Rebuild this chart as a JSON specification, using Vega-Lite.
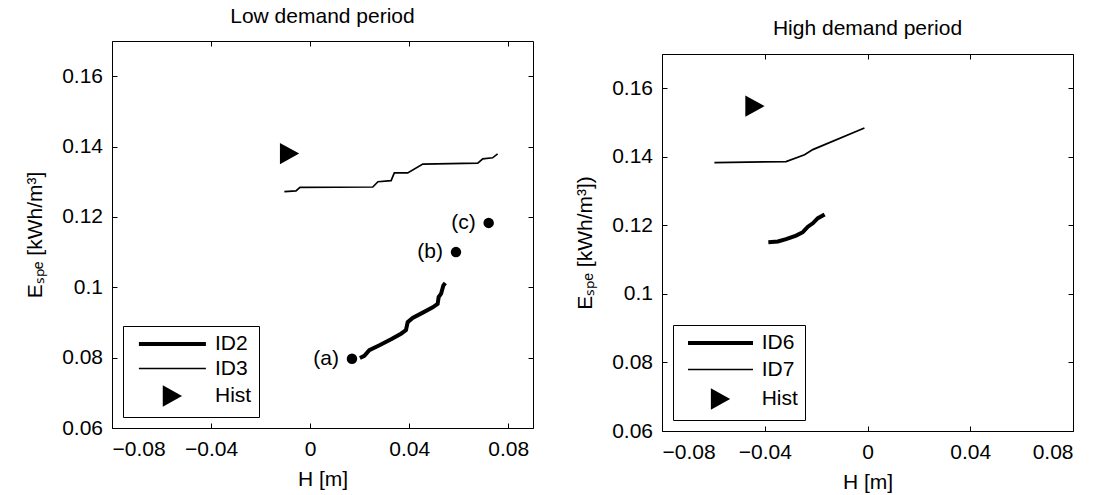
{
  "$schema": "https://vega.github.io/schema/vega-lite/v6.json",
  "background": "white",
  "padding": {"left": 24, "top": 5, "right": 5, "bottom": 5},
  "datasets": {
    "leftLines": [
      {"series": "ID2", "i": 1, "H": 0.0201, "E": 0.0799},
      {"series": "ID2", "i": 2, "H": 0.0219, "E": 0.0805},
      {"series": "ID2", "i": 3, "H": 0.0239, "E": 0.0821},
      {"series": "ID2", "i": 4, "H": 0.0280, "E": 0.0835},
      {"series": "ID2", "i": 5, "H": 0.0327, "E": 0.0852},
      {"series": "ID2", "i": 6, "H": 0.0367, "E": 0.0868},
      {"series": "ID2", "i": 7, "H": 0.0387, "E": 0.0878},
      {"series": "ID2", "i": 8, "H": 0.0394, "E": 0.0901},
      {"series": "ID2", "i": 9, "H": 0.0414, "E": 0.0913},
      {"series": "ID2", "i": 10, "H": 0.0455, "E": 0.0928},
      {"series": "ID2", "i": 11, "H": 0.0495, "E": 0.0943},
      {"series": "ID2", "i": 12, "H": 0.0515, "E": 0.0953},
      {"series": "ID2", "i": 13, "H": 0.0519, "E": 0.0972},
      {"series": "ID2", "i": 14, "H": 0.0529, "E": 0.0982},
      {"series": "ID2", "i": 15, "H": 0.0538, "E": 0.1005},
      {"series": "ID2", "i": 16, "H": 0.0546, "E": 0.1012},
      {"series": "ID3", "i": 1, "H": -0.0104, "E": 0.1272},
      {"series": "ID3", "i": 2, "H": -0.0057, "E": 0.1274},
      {"series": "ID3", "i": 3, "H": -0.0041, "E": 0.1284},
      {"series": "ID3", "i": 4, "H": 0.0253, "E": 0.1285},
      {"series": "ID3", "i": 5, "H": 0.0274, "E": 0.1300},
      {"series": "ID3", "i": 6, "H": 0.0327, "E": 0.1303},
      {"series": "ID3", "i": 7, "H": 0.0340, "E": 0.1325},
      {"series": "ID3", "i": 8, "H": 0.0394, "E": 0.1325},
      {"series": "ID3", "i": 9, "H": 0.0455, "E": 0.1350},
      {"series": "ID3", "i": 10, "H": 0.0677, "E": 0.1353},
      {"series": "ID3", "i": 11, "H": 0.0697, "E": 0.1365},
      {"series": "ID3", "i": 12, "H": 0.0737, "E": 0.1368},
      {"series": "ID3", "i": 13, "H": 0.0757, "E": 0.1379}
    ],
    "leftHist": [{"series": "Hist", "H": -0.0083, "E": 0.138}],
    "leftPoints": [
      {"label": "(a)", "H": 0.0169, "E": 0.0797},
      {"label": "(b)", "H": 0.0589, "E": 0.1100},
      {"label": "(c)", "H": 0.0721, "E": 0.1183}
    ],
    "rightLines": [
      {"series": "ID6", "i": 1, "H": -0.0386, "E": 0.1151},
      {"series": "ID6", "i": 2, "H": -0.0349, "E": 0.1153},
      {"series": "ID6", "i": 3, "H": -0.0317, "E": 0.1160},
      {"series": "ID6", "i": 4, "H": -0.0278, "E": 0.1170},
      {"series": "ID6", "i": 5, "H": -0.0252, "E": 0.1180},
      {"series": "ID6", "i": 6, "H": -0.0232, "E": 0.1196},
      {"series": "ID6", "i": 7, "H": -0.0213, "E": 0.1206},
      {"series": "ID6", "i": 8, "H": -0.0193, "E": 0.1221},
      {"series": "ID6", "i": 9, "H": -0.0174, "E": 0.1229},
      {"series": "ID6", "i": 10, "H": -0.0167, "E": 0.1232},
      {"series": "ID7", "i": 1, "H": -0.0596, "E": 0.1383},
      {"series": "ID7", "i": 2, "H": -0.0317, "E": 0.1386},
      {"series": "ID7", "i": 3, "H": -0.0245, "E": 0.1406},
      {"series": "ID7", "i": 4, "H": -0.0213, "E": 0.1421},
      {"series": "ID7", "i": 5, "H": -0.0012, "E": 0.1484}
    ],
    "rightHist": [{"series": "Hist", "H": -0.0438, "E": 0.1548}]
  },
  "spacing": 40,
  "hconcat": [
    {
      "width": 421,
      "height": 387,
      "title": {"text": "Low demand period", "offset": 14},
      "layer": [
        {
          "data": {"name": "leftLines"},
          "mark": {"type": "line", "color": "black"},
          "encoding": {
            "x": {"field": "H", "type": "quantitative", "scale": {"domain": [-0.08, 0.09], "nice": false, "zero": false},
                  "axis": {"orient": "bottom", "values": [-0.08, -0.04, 0, 0.04, 0.08], "format": "~g", "title": "H [m]"}},
            "y": {"field": "E", "type": "quantitative", "scale": {"domain": [0.06, 0.17], "nice": false, "zero": false},
                  "axis": {"orient": "left", "values": [0.06, 0.08, 0.1, 0.12, 0.14, 0.16], "format": "~g", "title": "Eₛₚₑ [kWh/m³]"}},
            "detail": {"field": "series", "type": "nominal"},
            "order": {"field": "i", "type": "quantitative"},
            "strokeWidth": {"field": "series", "type": "nominal", "scale": {"domain": ["ID2", "ID3"], "range": [4, 1.7]}, "legend": null}
          }
        },
        {
          "data": {"name": "leftPoints"},
          "mark": {"type": "point", "shape": "circle", "filled": true, "color": "black", "size": 110, "opacity": 1},
          "encoding": {
            "x": {"field": "H", "type": "quantitative", "axis": null},
            "y": {"field": "E", "type": "quantitative", "axis": null}
          }
        },
        {
          "data": {"name": "leftPoints"},
          "mark": {"type": "text", "align": "right", "baseline": "middle", "dx": -13, "fontSize": 21, "color": "black"},
          "encoding": {
            "x": {"field": "H", "type": "quantitative", "axis": null},
            "y": {"field": "E", "type": "quantitative", "axis": null},
            "text": {"field": "label"}
          }
        },
        {
          "data": {"name": "leftHist"},
          "mark": {"type": "point", "filled": true, "color": "black", "size": 400, "opacity": 1},
          "encoding": {
            "x": {"field": "H", "type": "quantitative", "axis": {"orient": "top", "values": [-0.08, -0.04, 0, 0.04, 0.08], "labels": false, "title": null}},
            "y": {"field": "E", "type": "quantitative", "axis": {"orient": "right", "values": [0.06, 0.08, 0.1, 0.12, 0.14, 0.16], "labels": false, "title": null}},
            "shape": {"field": "series", "type": "nominal",
              "scale": {"domain": ["ID2", "ID3", "Hist"], "range": ["M-3.35,-0.2H3.35V0.2H-3.35Z", "M-3.35,-0.085H3.35V0.085H-3.35Z", "M-0.965,-1.065L0.965,0L-0.965,1.065Z"]},
              "legend": {
                "title": null, "orient": "bottom-left", "offset": 11, "padding": 7, "symbolOffset": 31.4,
                "strokeColor": "black", "fillColor": "white", "symbolSize": 400, "symbolFillColor": "black",
                "labelFontSize": 21, "labelColor": "black", "labelOffset": 31.6, "rowPadding": 3.5
              }
            }
          }
        }
      ],
      "resolve": {"axis": {"x": "independent", "y": "independent"}, "legend": {"shape": "independent"}}
    },
    {
      "spacing": 11,
      "vconcat": [
        {
          "width": 411,
          "height": 1,
          "title": {"text": "High demand period", "offset": 2},
          "view": {"stroke": null},
          "data": {"values": []},
          "mark": "point"
        },
        {
          "width": 411,
          "height": 377,
          "layer": [
            {
              "data": {"name": "rightLines"},
              "mark": {"type": "line", "color": "black"},
              "encoding": {
                "x": {"field": "H", "type": "quantitative", "scale": {"domain": [-0.08, 0.08], "nice": false, "zero": false},
                      "axis": {"orient": "bottom", "values": [-0.08, -0.04, 0, 0.04, 0.08], "format": "~g", "title": "H [m]"}},
                "y": {"field": "E", "type": "quantitative", "scale": {"domain": [0.06, 0.17], "nice": false, "zero": false},
                      "axis": {"orient": "left", "values": [0.06, 0.08, 0.1, 0.12, 0.14, 0.16], "format": "~g", "title": "Eₛₚₑ [kWh/m³])"}},
                "detail": {"field": "series", "type": "nominal"},
                "order": {"field": "i", "type": "quantitative"},
                "strokeWidth": {"field": "series", "type": "nominal", "scale": {"domain": ["ID6", "ID7"], "range": [4, 1.7]}, "legend": null}
              }
            },
            {
              "data": {"name": "rightHist"},
              "mark": {"type": "point", "filled": true, "color": "black", "size": 400, "opacity": 1},
              "encoding": {
                "x": {"field": "H", "type": "quantitative", "axis": {"orient": "top", "values": [-0.08, -0.04, 0, 0.04, 0.08], "labels": false, "title": null}},
                "y": {"field": "E", "type": "quantitative", "axis": {"orient": "right", "values": [0.06, 0.08, 0.1, 0.12, 0.14, 0.16], "labels": false, "title": null}},
                "shape": {"field": "series", "type": "nominal",
                  "scale": {"domain": ["ID6", "ID7", "Hist"], "range": ["M-3.25,-0.2H3.25V0.2H-3.25Z", "M-3.25,-0.085H3.25V0.085H-3.25Z", "M-0.965,-1.065L0.965,0L-0.965,1.065Z"]},
                  "legend": {
                    "title": null, "orient": "bottom-left", "offset": 11, "padding": 7, "symbolOffset": 29.5,
                    "strokeColor": "black", "fillColor": "white", "symbolSize": 400, "symbolFillColor": "black",
                    "labelFontSize": 21, "labelColor": "black", "labelOffset": 30.2, "rowPadding": 5.5
                  }
                }
              }
            }
          ],
          "resolve": {"axis": {"x": "independent", "y": "independent"}, "legend": {"shape": "independent"}}
        }
      ]
    }
  ],
  "resolve": {"legend": {"shape": "independent"}, "scale": {"shape": "independent", "strokeWidth": "independent"}},
  "config": {
    "font": "Liberation Sans",
    "view": {"stroke": "black", "strokeWidth": 1},
    "axis": {
      "domain": false, "grid": false, "ticks": true, "tickColor": "black", "tickSize": -5, "tickWidth": 1,
      "labelColor": "black", "labelFontSize": 21, "labelFont": "Liberation Sans",
      "titleColor": "black", "titleFontSize": 21, "titleFontWeight": "normal", "titleFont": "Liberation Sans"
    },
    "axisX": {"labelPadding": 15, "titlePadding": 9},
    "axisY": {"labelPadding": 14.5, "titlePadding": 16},
    "title": {"fontSize": 21, "fontWeight": "normal", "color": "black", "font": "Liberation Sans"},
    "legend": {"cornerRadius": 0, "strokeWidth": 1}
  }
}
